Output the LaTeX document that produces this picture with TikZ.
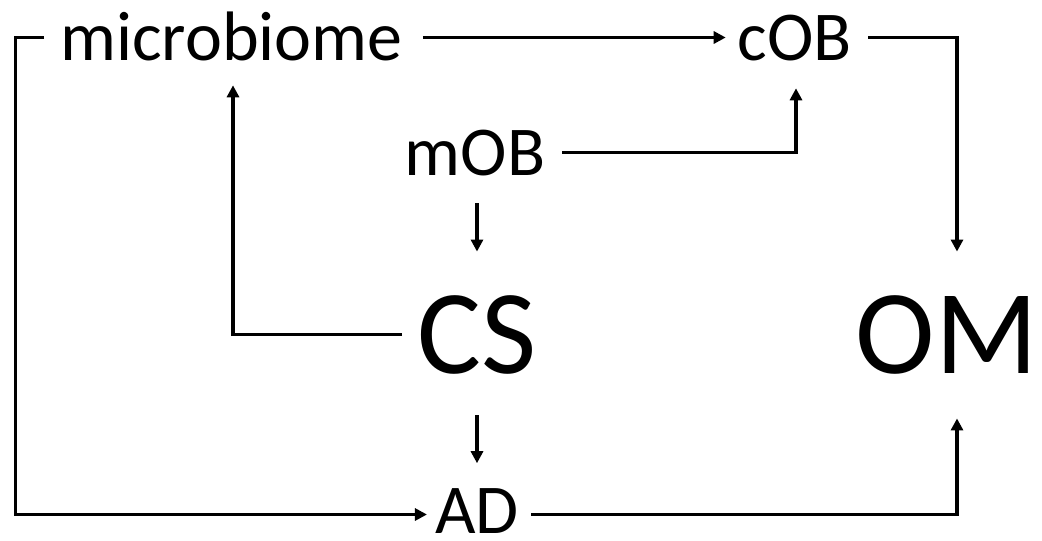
\documentclass[tikz,border=0pt]{standalone}
\usepackage{fontspec}
\setmainfont{Carlito}
\usetikzlibrary{arrows.meta,calc}
\begin{document}
\begin{tikzpicture}[x=0.75pt,y=-0.75pt,
  lbl/.style={inner sep=0pt, font=\fontsize{52.5}{60}\selectfont, text height=33.8pt, text depth=0pt},
  big/.style={inner sep=0pt, font=\fontsize{90}{100}\selectfont, text height=58pt, text depth=0pt},
  conn/.style={line width=2.3pt, -{Triangle[width=9pt,length=9pt]}}]
\useasboundingbox (0,0) rectangle (1042,540);
\node[lbl] (micro) at (231.5,37.5) {microbiome};
\node[lbl] (cob) at (795,37.5) {cOB};
\node[lbl] (mob) at (475,152.5) {mOB};
\node[big] (cs) at (477,334.5) {CS};
\node[big] (om) at (947,334.5) {OM};
\node[lbl] (ad) at (477,511) {AD};
% microbiome -> cOB
\draw[conn] ($(micro.east)+(20,0)$) -- ($(cob.west)+(-12,0)$);
% cOB -> OM
\draw[conn] ($(cob.east)+(16,0)$) -| ($(om.north)+(10,-44)$);
% mOB -> cOB
\draw[conn] ($(mob.east)+(17,0)$) -| ($(cob.south)+(1,28)$);
% mOB -> CS
\draw[conn] ($(mob.south)+(2,28)$) -- ($(cs.north)+(0,-44)$);
% CS -> microbiome
\draw[conn] ($(cs.west)+(-15,0)$) -| ($(micro.south)+(1.5,25)$);
% CS -> AD
\draw[conn] ($(cs.south)+(0,42)$) -- ($(ad.north)+(0,-25)$);
% microbiome -> AD
\draw[conn] ($(micro.west)+(-16,0)$) -- ($(micro.west)+(-45,0)$) |- ($(ad.west)+(-8,3.5)$);
% AD -> OM
\draw[conn] ($(ad.east)+(12,3.5)$) -| ($(om.south)+(10,45)$);
\end{tikzpicture}
\end{document}
